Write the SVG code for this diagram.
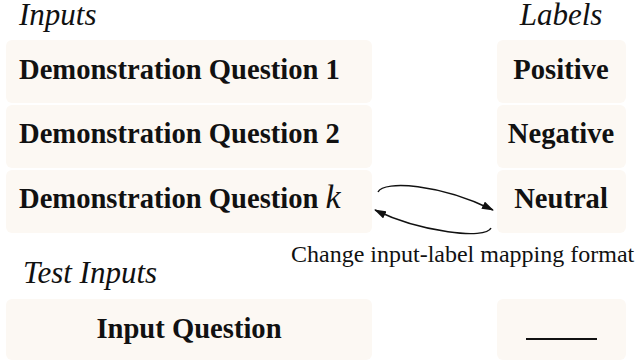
<svg xmlns="http://www.w3.org/2000/svg" width="636" height="362" viewBox="0 0 636 362">
<style>
.box{fill:#fcf8f3;}
.hdr{font-family:"Liberation Serif",serif;font-style:italic;font-size:31px;fill:#111;}
.b{font-family:"Liberation Serif",serif;font-weight:bold;font-size:28.6px;fill:#111;}
.r{font-family:"Liberation Serif",serif;font-size:24px;fill:#111;}
.conn{fill:none;stroke:#111;stroke-width:1.4;}
</style>
<defs>
<marker id="ah" viewBox="0 0 12 8" refX="11" refY="4" markerWidth="12" markerHeight="8" markerUnits="userSpaceOnUse" orient="auto">
<path d="M0,0 L12,4 L0,8 Z" fill="#111"/>
</marker>
</defs>
<rect width="636" height="362" fill="#fff"/>
<text class="hdr" x="19" y="25">Inputs</text>
<text class="hdr" x="561" y="25" text-anchor="middle">Labels</text>
<text class="hdr" x="23" y="283">Test Inputs</text>
<g id="demo1"><rect class="box" x="6" y="40" width="366" height="63" rx="6"/><text class="b" x="19" y="79">Demonstration Question 1</text></g>
<g id="demo2"><rect class="box" x="6" y="105" width="366" height="63" rx="6"/><text class="b" x="19" y="143">Demonstration Question 2</text></g>
<g id="demok"><rect class="box" x="6" y="170" width="366" height="63" rx="6"/><text class="b" x="19" y="208">Demonstration Question <tspan font-weight="normal" font-style="italic" font-size="34">k</tspan></text></g>
<g id="pos"><rect class="box" x="497" y="40" width="129" height="63" rx="6"/><text class="b" x="561" y="79" text-anchor="middle">Positive</text></g>
<g id="neg"><rect class="box" x="497" y="105" width="129" height="63" rx="6"/><text class="b" x="561" y="143" text-anchor="middle">Negative</text></g>
<g id="neu"><rect class="box" x="497" y="170" width="129" height="63" rx="6"/><text class="b" x="561" y="208" text-anchor="middle">Neutral</text></g>
<g id="test"><rect class="box" x="6" y="299" width="366" height="61" rx="6"/><text class="b" x="189" y="338" text-anchor="middle">Input Question</text></g>
<g id="blank"><rect class="box" x="497" y="299" width="129" height="61" rx="6"/><line x1="526" y1="339" x2="597" y2="339" stroke="#111" stroke-width="2"/></g>
<g id="connectors">
<path class="conn" d="M378,192 C384,180 440,184 493,210" marker-end="url(#ah)"/>
<path class="conn" d="M491,228 C486,240 420,232 375,210" marker-end="url(#ah)"/>
</g>
<text class="r" x="291" y="262">Change input-label mapping format</text>
</svg>
